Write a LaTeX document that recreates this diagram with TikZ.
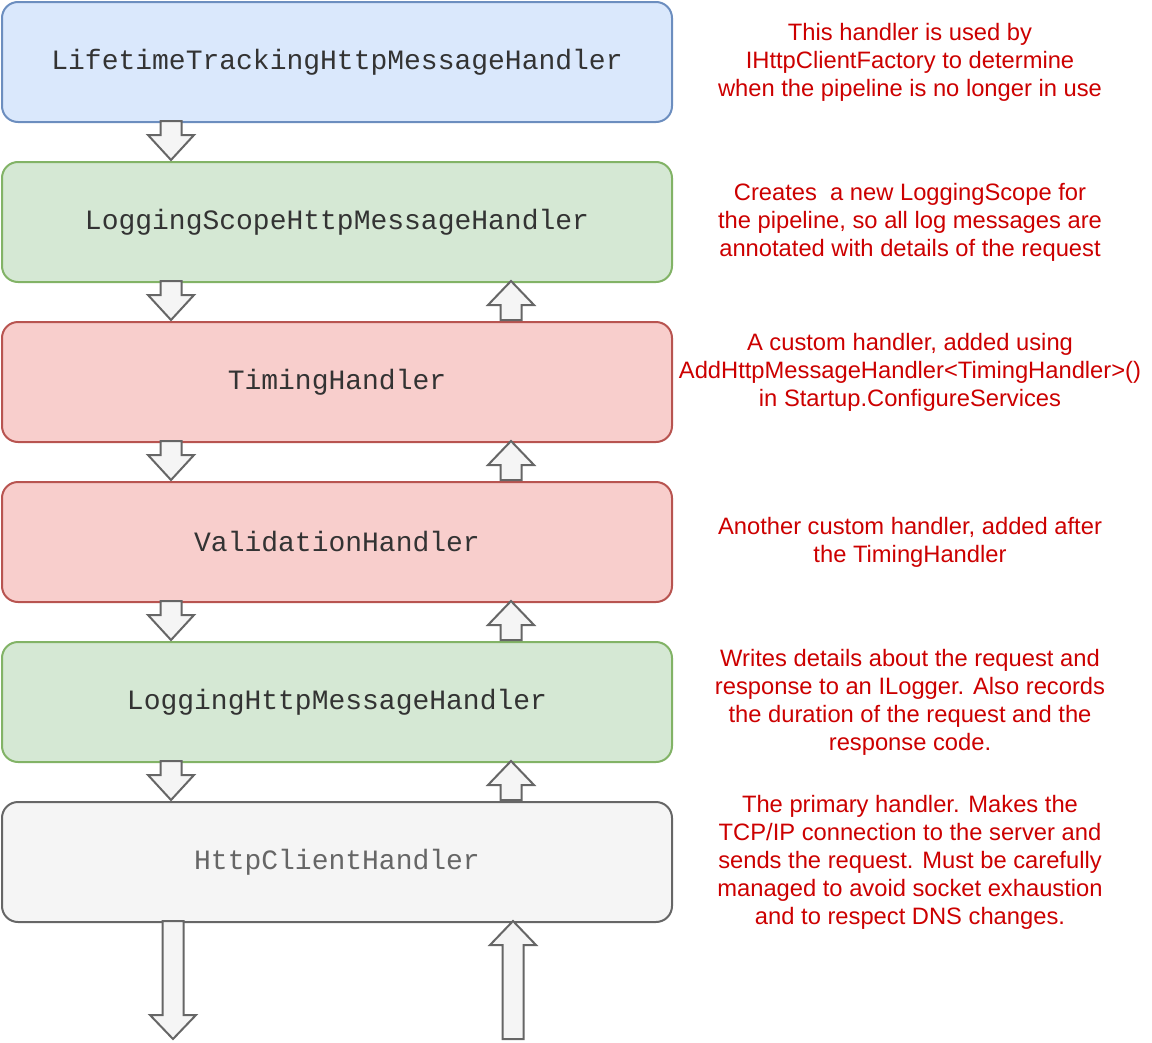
\documentclass[tikz,border=0pt]{standalone}
\usepackage{fontspec}
\setmainfont{Liberation Sans}
\setmonofont{Liberation Mono}
\definecolor{blueFill}{RGB}{218,232,252}\definecolor{blueLine}{RGB}{108,142,191}
\definecolor{greenFill}{RGB}{213,232,212}\definecolor{greenLine}{RGB}{130,179,102}
\definecolor{redFill}{RGB}{248,206,204}\definecolor{redLine}{RGB}{184,84,80}
\definecolor{greyFill}{RGB}{245,245,245}\definecolor{greyLine}{RGB}{102,102,102}
\definecolor{noteRed}{RGB}{204,0,0}
\tikzset{
  handler/.style={draw, line width=1.5pt, rounded corners=12, minimum width=502.5pt, minimum height=90pt, anchor=north west, text=black!80, font=\ttfamily\fontsize{21}{24}\selectfont},
  note/.style={text=noteRed, align=center, font=\fontsize{17.8}{21}\selectfont},
  blk/.style={draw=greyLine, fill=greyFill, line width=1.5pt, line join=miter}
}
% down block arrow: x-centre, top, bottom, head length
\newcommand{\downblk}[4]{\draw[blk] (#1-10.5,#2) -- (#1+10.5,#2) -- (#1+10.5,#3-#4) -- (#1+23,#3-#4) -- (#1,#3) -- (#1-23,#3-#4) -- (#1-10.5,#3-#4) -- cycle;}
% up block arrow: x-centre, bottom, top, head length
\newcommand{\upblk}[4]{\draw[blk] (#1-10.5,#2) -- (#1+10.5,#2) -- (#1+10.5,#3+#4) -- (#1+23,#3+#4) -- (#1,#3) -- (#1-23,#3+#4) -- (#1-10.5,#3+#4) -- cycle;}
\begin{document}
\begin{tikzpicture}[x=0.75pt,y=0.75pt,yscale=-1,xscale=1]
\useasboundingbox (0,0) rectangle (1152,1042);

% handlers
\node[handler, fill=blueFill, draw=blueLine] (lifetime) at (1,1) {LifetimeTrackingHttpMessageHandler};
\node[handler, fill=greenFill, draw=greenLine] (scope) at (1,161) {LoggingScopeHttpMessageHandler};
\node[handler, fill=redFill, draw=redLine] (timing) at (1,321) {TimingHandler};
\node[handler, fill=redFill, draw=redLine] (validation) at (1,481) {ValidationHandler};
\node[handler, fill=greenFill, draw=greenLine] (logging) at (1,641) {LoggingHttpMessageHandler};
\node[handler, fill=greyFill, draw=greyLine, text=black!60] (client) at (1,801) {HttpClientHandler};

% block arrows
\foreach \y in {121,281,441,601,761} {
  \downblk{171}{\y}{\y+39}{25}
}
\foreach \y in {281,441,601,761} {
  \upblk{511}{\y+39}{\y}{24}
}
\downblk{173}{921}{1039}{24}
\upblk{513}{1039}{921}{24}

% notes
\node[note] (n1) at (910,62) {This handler is used by\\IHttpClientFactory to determine\\when the pipeline is no longer in use};
\node[note] (n2) at (910,222) {Creates\ \ a new LoggingScope for\\the pipeline, so all log messages are\\annotated with details of the request};
\node[note] (n3) at (910,372) {A custom handler, added using\\AddHttpMessageHandler<TimingHandler>()\\in Startup.ConfigureServices};
\node[note] (n4) at (910,542) {Another custom handler, added after\\the TimingHandler};
\node[note] (n5) at (910,702) {Writes details about the request and\\response to an ILogger. Also records\\the duration of the request and the\\response code.};
\node[note] (n6) at (910,862) {The primary handler. Makes the\\TCP/IP connection to the server and\\sends the request. Must be carefully\\managed to avoid socket exhaustion\\and to respect DNS changes.};
\end{tikzpicture}
\end{document}
